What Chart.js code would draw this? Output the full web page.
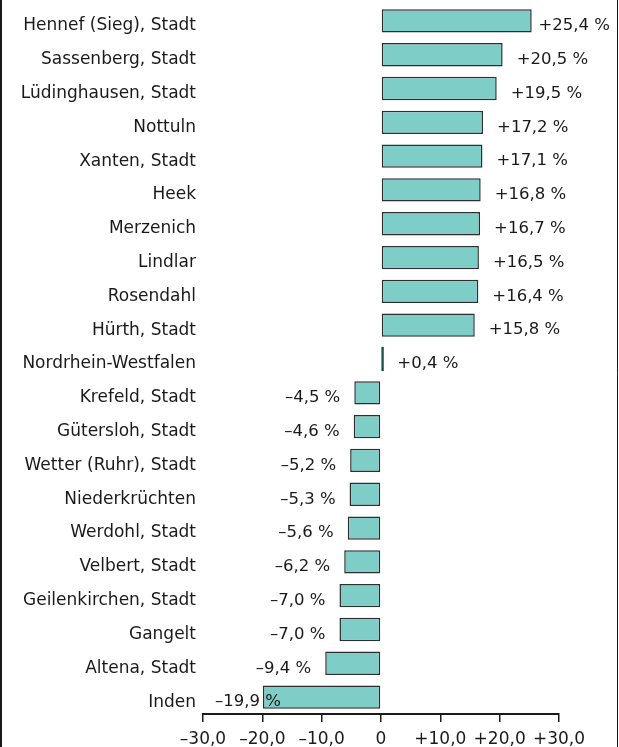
<!DOCTYPE html>
<html>
<head>
<meta charset="utf-8">
<script src="https://cdn.jsdelivr.net/npm/chart.js@4/dist/chart.umd.min.js"></script>
<style>
html,body{margin:0;padding:0;background:#fff;}
canvas{display:block;}
</style>
</head>
<body>
<canvas id="c" width="619" height="747"></canvas>
<script>
const categories = [
  "Hennef (Sieg), Stadt","Sassenberg, Stadt","Lüdinghausen, Stadt","Nottuln","Xanten, Stadt",
  "Heek","Merzenich","Lindlar","Rosendahl","Hürth, Stadt","Nordrhein-Westfalen",
  "Krefeld, Stadt","Gütersloh, Stadt","Wetter (Ruhr), Stadt","Niederkrüchten","Werdohl, Stadt",
  "Velbert, Stadt","Geilenkirchen, Stadt","Gangelt","Altena, Stadt","Inden"
];
const values = [25.4,20.5,19.5,17.2,17.1,16.8,16.7,16.5,16.4,15.8,0.4,-4.5,-4.6,-5.2,-5.3,-5.6,-6.2,-7.0,-7.0,-9.4,-19.9];
const xTickLabels = ["–30,0","–20,0","–10,0","0","+10,0","+20,0","+30,0"];
const highlightCategory = "Nordrhein-Westfalen";

const FONT = "'DejaVu Sans', sans-serif";
const TEXT = "#1a1a1a";
const fmt = v => (v >= 0 ? "+" : "–") + Math.abs(v).toFixed(1).replace(".", ",") + " %";

const valueLabelPlugin = {
  id: "valueLabels",
  afterDatasetsDraw(chart) {
    const ctx = chart.ctx;
    const meta = chart.getDatasetMeta(0);
    ctx.save();
    ctx.font = "16.5px " + FONT;
    ctx.fillStyle = TEXT;
    ctx.textBaseline = "middle";
    meta.data.forEach((bar, i) => {
      const v = values[i];
      const txt = fmt(v);
      const w = ctx.measureText(txt).width;
      const y = bar.y + 5;
      let x;
      if (v >= 0) {
        x = bar.x + 14;
        if (x + w > 610) x = 610 - w;
      } else {
        x = bar.x - 14 - w;
        if (x < 215) x = 215;
      }
      ctx.textAlign = "left";
      ctx.fillText(txt, x, y);
    });
    ctx.restore();
  },
  afterDraw(chart) {
    const ctx = chart.ctx;
    ctx.save();
    ctx.strokeStyle = "#1a1a1a";
    ctx.lineWidth = 2;
    ctx.beginPath(); ctx.moveTo(1, 0); ctx.lineTo(1, chart.height); ctx.stroke();
    ctx.lineWidth = 1;
    ctx.beginPath(); ctx.moveTo(617.5, 0); ctx.lineTo(617.5, chart.height); ctx.stroke();
    ctx.restore();
  }
};

new Chart(document.getElementById("c"), {
  type: "bar",
  data: {
    labels: categories,
    datasets: [{
      data: values,
      backgroundColor: categories.map(c => c === highlightCategory ? "#0e4a3d" : "#7ecdc7"),
      borderColor: categories.map(c => c === highlightCategory ? "#0e4a3d" : "#2e2e2e"),
      borderWidth: 1.5,
      borderSkipped: false,
      inflateAmount: ctx => (categories[ctx.dataIndex] === highlightCategory ? 0.5 : 0),
      categoryPercentage: 1,
      barPercentage: 0.69
    }]
  },
  options: {
    indexAxis: "y",
    responsive: false,
    animation: false,
    devicePixelRatio: 1,
    layout: { padding: { top: 4, right: 60, bottom: 0, left: 0 } },
    plugins: { legend: { display: false }, tooltip: { enabled: false } },
    scales: {
      x: {
        min: -30, max: 30,
        afterFit(s) { s.height = 33; },
        grid: { display: true, drawOnChartArea: false, drawTicks: true, tickLength: 8, color: "#1a1a1a", lineWidth: 1.5 },
        border: { display: true, color: "#1a1a1a", width: 2 },
        ticks: {
          stepSize: 10,
          padding: 7,
          maxRotation: 0,
          color: TEXT,
          font: { family: FONT, size: 17 },
          callback(v) { const i = Math.round((v + 30) / 10); return xTickLabels[i]; }
        }
      },
      y: {
        afterFit(s) { s.width = 203; s.paddingTop = 0; s.paddingBottom = 0; },
        grid: { display: false, drawTicks: false, tickLength: 0 },
        border: { display: false },
        ticks: {
          padding: 7,
          labelOffset: 5,
          color: TEXT,
          font: { family: FONT, size: 17 }
        }
      }
    }
  },
  plugins: [valueLabelPlugin]
});
</script>
</body>
</html>
